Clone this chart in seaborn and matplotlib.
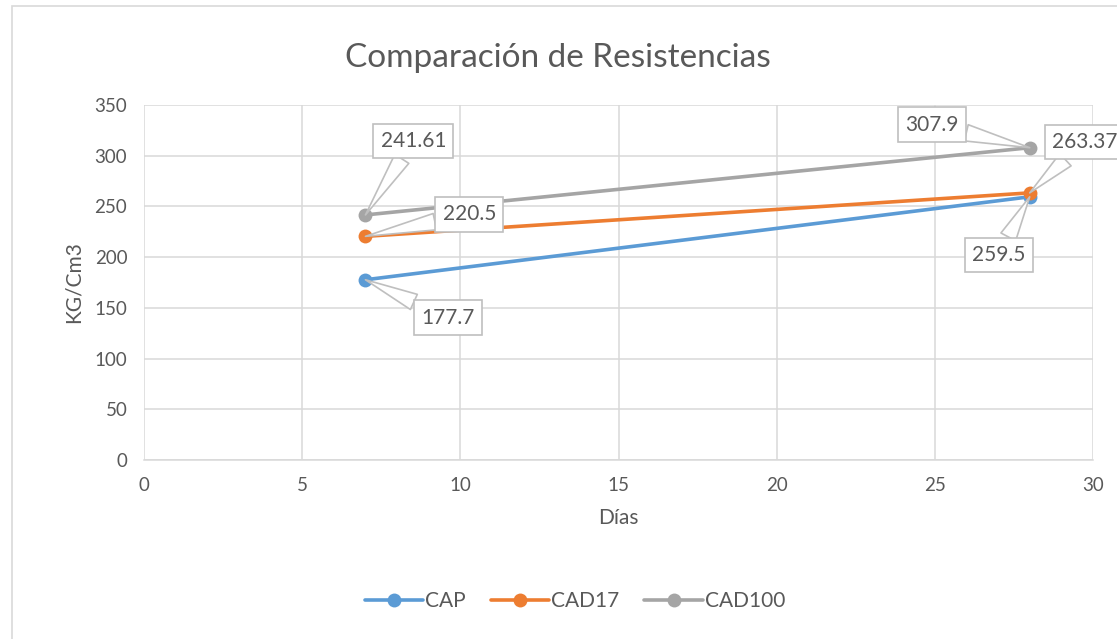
import matplotlib
matplotlib.use("Agg")
import matplotlib.pyplot as plt
import matplotlib.patches as mpatches
import pandas as pd
import seaborn as sns

# datos
dias = [7, 28]
cap = [177.7, 259.5]
cad17 = [220.5, 263.37]
cad100 = [241.61, 307.9]
series = ["CAP", "CAD17", "CAD100"]
colores = ["#5B9BD5", "#ED7D31", "#A5A5A5"]

df = pd.DataFrame({
    "Días": dias * 3,
    "KG/Cm3": cap + cad17 + cad100,
    "serie": [s for s in series for _ in dias],
})

sns.set_theme(style="white")
plt.rcParams["font.family"] = ["Lato", "DejaVu Sans"]
gris_txt = "#595959"
gris_lin = "#D9D9D9"

fig = plt.figure(figsize=(11.17, 6.39), dpi=100)
ax = fig.add_axes([144 / 1117, 1 - 460 / 639, 949 / 1117, 355 / 639])

# marco exterior del grafico
fig.patches.append(mpatches.Rectangle((12 / 1117, -0.05), 1.2, 1 - 6 / 639 + 0.05,
                                      transform=fig.transFigure, fill=False,
                                      ec=gris_lin, lw=1.2, zorder=0))

sns.lineplot(data=df, x="Días", y="KG/Cm3", hue="serie", palette=colores,
             marker="o", markersize=10, markeredgewidth=0, linewidth=2.6,
             ax=ax, legend=False)

ax.set_xlim(0, 30)
ax.set_ylim(0, 350)
ax.set_xticks(range(0, 31, 5))
ax.set_yticks(range(0, 351, 50))
ax.grid(True, color=gris_lin, linewidth=1.1)
ax.set_axisbelow(True)
for s in ["top", "right", "left"]:
    ax.spines[s].set_visible(False)
ax.spines["bottom"].set_color(gris_lin)
ax.spines["bottom"].set_linewidth(1.1)
ax.tick_params(colors=gris_txt, labelsize=13.5, length=0, pad=12)
ax.set_xlabel("Días", fontsize=15, color=gris_txt, labelpad=10)
ax.set_ylabel("KG/Cm3", fontsize=15, color=gris_txt, labelpad=8)
fig.text(558 / 1117, 1 - 58 / 639, "Comparación de Resistencias", ha="center",
         va="center", fontsize=24, color=gris_txt)

# etiquetas tipo callout (desplazamientos en pixeles)
desplaz = {
    ("CAP", 0): (83, -38), ("CAP", 1): (-31, -58),
    ("CAD17", 0): (104, 22), ("CAD17", 1): (55, 51),
    ("CAD100", 0): (48, 74), ("CAD100", 1): (-98, 23),
}
valores = {"CAP": cap, "CAD17": cad17, "CAD100": cad100}
for s in series:
    for i, d in enumerate(dias):
        v = valores[s][i]
        ax.annotate(f"{v:g}", xy=(d, v), xytext=desplaz[(s, i)],
                    textcoords="offset pixels", ha="center", va="center",
                    fontsize=15, color=gris_txt, annotation_clip=False,
                    bbox=dict(boxstyle="square,pad=0.35", fc="white", ec="#BFBFBF", lw=1.2),
                    arrowprops=dict(arrowstyle="wedge,tail_width=0.8,shrink_factor=0.5",
                                    fc="white", ec="#BFBFBF", lw=1.2, shrinkA=0, shrinkB=0),
                    zorder=5)

handles = [plt.Line2D([], [], color=c, lw=2.6, marker="o", markersize=10,
                      markeredgewidth=0) for c in colores]
fig.legend(handles, series, loc="center", bbox_to_anchor=(575 / 1117, 1 - 601 / 639),
           ncol=3, frameon=False, fontsize=15, labelcolor=gris_txt,
           handlelength=2.8, handletextpad=0.1, columnspacing=1.2)

fig.savefig("out.png", dpi=100)
